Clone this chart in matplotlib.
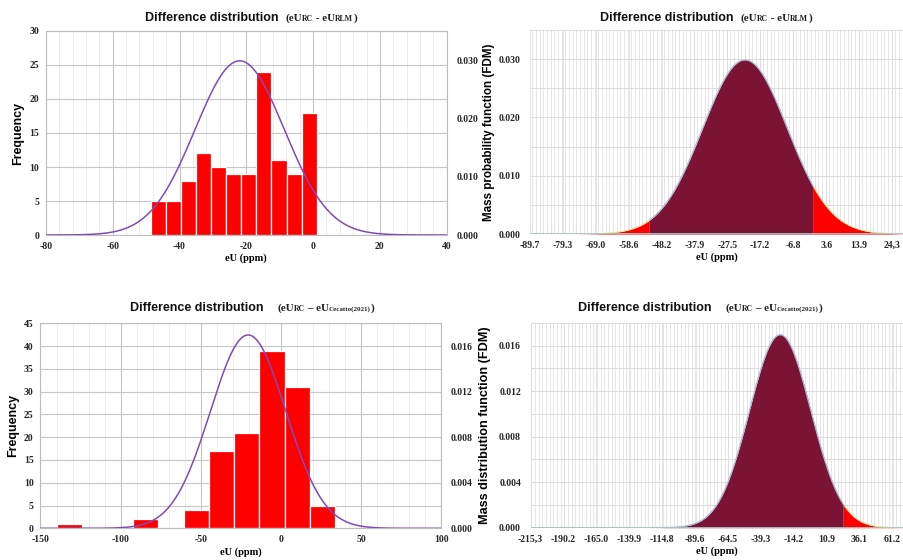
import numpy as np
import matplotlib
matplotlib.use('Agg')
import matplotlib.pyplot as plt
from matplotlib.offsetbox import TextArea, HPacker, AnnotationBbox
from matplotlib.ticker import MultipleLocator, FixedLocator

plt.rcParams['axes.unicode_minus'] = False

SANS = 'Liberation Sans'
SERIF = 'Liberation Serif'

# eU_RC - eU_RLM : histogram bins, counts and fitted normal
rlm_edges = [-48.65, -44.13, -39.6, -35.1, -30.6, -26.05, -21.5, -17.0, -12.5, -7.95, -3.4, 1.1]
rlm_counts = [5, 5, 8, 12, 10, 9, 9, 24, 11, 9, 18]
rlm_mean, rlm_sd = -22.0, 13.35
rlm_ticks = [-89.7, -79.3, -69.0, -58.6, -48.2, -37.9, -27.5, -17.2, -6.8, 3.6, 13.9, 24.3]
rlm_tick_labels = ['-89.7', '-79.3', '-69.0', '-58.6', '-48.2', '-37.9', '-27.5', '-17.2',
                   '-6.8', '3.6', '13.9', '24,3']
rlm_cut = (-52.1, -0.7)

# eU_RC - eU_Cecatto(2021)
cec_edges = [-139.8, -124.0, -108.2, -92.4, -76.6, -60.8, -45.0, -29.2, -13.4, 2.4, 18.2, 34.0]
cec_counts = [1, 0, 0, 2, 0, 4, 17, 21, 39, 31, 5]
cec_mean, cec_sd = -20.5, 23.5
cec_fdm_mean = -24.6
cec_ticks = [-215.3, -190.2, -165.0, -139.9, -114.8, -89.6, -64.5, -39.3, -14.2, 10.9, 36.1, 61.2]
cec_tick_labels = ['-215,3', '-190.2', '-165.0', '-139.9', '-114.8', '-89.6', '-64.5', '-39.3',
                   '-14.2', '10.9', '36.1', '61.2']
cec_cut = (-300.0, 23.7)

BAR_RED = '#FF0000'
CURVE = '#7E4CB8'
MAROON = '#7B1434'

W, H = 904, 560
fig = plt.figure(figsize=(W / 100, H / 100), dpi=100)


def rect(l, t, r, b):
    return [l / W, 1 - b / H, (r - l) / W, (b - t) / H]


def pdf(x, mu, sd):
    return np.exp(-0.5 * ((x - mu) / sd) ** 2) / (sd * np.sqrt(2 * np.pi))


def tick_font(ax, size=7):
    for lab in ax.get_xticklabels() + ax.get_yticklabels():
        lab.set_fontfamily(SERIF)
        lab.set_fontweight('bold')
        lab.set_fontsize(size)
        lab.set_color('#262626')


def title(xpix, ypix, sub2, gap='  '):
    serif = dict(family=SERIF, weight='bold', size=8, color='#222222')
    small = dict(family=SERIF, weight='bold', size=5.6, color='#222222')
    parts = [
        TextArea('Difference distribution' + gap,
                 textprops=dict(family=SANS, weight='bold', size=9, color='#111111')),
        TextArea('(eU', textprops=serif),
        TextArea('RC', textprops=small),
        TextArea(sub2[0], textprops=serif),
        TextArea(sub2[1], textprops=dict(small, size=sub2[2])),
        TextArea(')', textprops=serif),
    ]
    box = HPacker(children=parts, align='baseline', pad=0, sep=0)
    ab = AnnotationBbox(box, (xpix / W, 1 - ypix / H), xycoords='figure fraction',
                        frameon=False, box_alignment=(0.5, 0.5))
    fig.add_artist(ab)


def hist_panel(pos, edges, counts, mu, sd, xlim, xstep, xminor, ymax, ystep,
               pmax, pticks, label_x):
    ax = fig.add_axes(pos)
    lefts = edges[:-1]
    widths = np.diff(edges)
    ax.bar(lefts, counts, width=widths, align='edge', color=BAR_RED,
           edgecolor='white', linewidth=0.9, zorder=2)
    ax.set_xlim(*xlim)
    ax.set_ylim(0, ymax)
    ax.xaxis.set_major_locator(MultipleLocator(xstep))
    ax.xaxis.set_minor_locator(MultipleLocator(xminor))
    ax.yaxis.set_major_locator(MultipleLocator(ystep))
    ax.grid(which='minor', axis='x', color='#E9E9E9', lw=0.6)
    ax.grid(which='major', axis='both', color='#C6C6C6', lw=0.8)
    ax.set_axisbelow(True)
    ax.tick_params(which='both', length=0, pad=5)
    for s in ax.spines.values():
        s.set_color('#BDBDBD')
        s.set_linewidth(0.8)
    ax.set_xlabel('eU (ppm)', family=SERIF, weight='bold', size=7.5, labelpad=2)
    ax.set_ylabel('Frequency', family=SANS, weight='bold', size=9)
    ax.yaxis.set_label_coords(label_x, 0.5)
    tick_font(ax)

    ax2 = ax.twinx()
    xs = np.linspace(xlim[0], xlim[1], 600)
    ax2.plot(xs, pdf(xs, mu, sd), color=CURVE, lw=1.1, zorder=3)
    ax2.set_ylim(0, pmax)
    ax2.yaxis.set_major_locator(FixedLocator(pticks))
    ax2.yaxis.set_major_formatter(plt.FuncFormatter(lambda v, p: f'{v:.3f}'))
    ax2.tick_params(length=0, pad=7)
    for s in ax2.spines.values():
        s.set_visible(False)
    tick_font(ax2)
    return ax


def fdm_panel(pos, mu, sd, ticks, labels, xlim, pmax, pstep, pminor, cut,
              ylabel, label_size, label_x):
    ax = fig.add_axes(pos)
    xs = np.linspace(xlim[0], xlim[1], 3000)
    ys = pdf(xs, mu, sd)
    lo = xs <= cut[0]
    hi = xs >= cut[1]
    inner = ~lo & ~hi
    ax.fill_between(xs, ys, where=lo, color=BAR_RED, lw=0, zorder=2)
    ax.fill_between(xs, ys, where=hi, color=BAR_RED, lw=0, zorder=2)
    ax.fill_between(xs, ys, where=inner, color=MAROON, lw=0, zorder=2)
    # thin yellow rim on the red tails, blue-grey rim on the body
    for m in (lo, hi):
        if m.any():
            ax.plot(xs[m], ys[m], color='#F2DE7A', lw=0.6, zorder=3)
    ax.plot(xs[inner], ys[inner], color='#A9BDD3', lw=0.9, zorder=3)
    ax.axhline(0, color='#A9C4C2', lw=1.3, zorder=3)
    ax.set_xlim(*xlim)
    ax.set_ylim(0, pmax)
    ax.xaxis.set_major_locator(FixedLocator(ticks))
    ax.xaxis.set_major_formatter(plt.FixedFormatter(labels))
    step = ticks[1] - ticks[0]
    ax.xaxis.set_minor_locator(MultipleLocator(step / 9))
    ax.yaxis.set_major_locator(MultipleLocator(pstep))
    ax.yaxis.set_minor_locator(MultipleLocator(pminor))
    ax.yaxis.set_major_formatter(plt.FuncFormatter(lambda v, p: f'{v:.3f}'))
    ax.grid(which='both', axis='x', color='#DADADA', lw=0.5)
    ax.grid(which='both', axis='y', color='#DCDCDC', lw=0.7)
    ax.set_axisbelow(True)
    ax.tick_params(which='both', length=0, pad=5)
    ax.tick_params(axis='y', pad=7)
    for s in ax.spines.values():
        s.set_visible(False)
    ax.set_xlabel('eU (ppm)', family=SERIF, weight='bold', size=7.5, labelpad=2)
    ax.set_ylabel(ylabel, family=SANS, weight='bold', size=label_size)
    ax.yaxis.set_label_coords(label_x, 0.5)
    tick_font(ax)
    return ax


hist_panel(rect(46, 31, 446.7, 235), rlm_edges, rlm_counts, rlm_mean, rlm_sd,
           (-80, 40), 20, 4, 30, 5, 0.035, [0, 0.01, 0.02, 0.03], -0.055)
fdm_panel(rect(530, 30, 904, 234), rlm_mean, rlm_sd, rlm_ticks, rlm_tick_labels,
          (-89.7, 28.1), 0.035, 0.010, 0.005, rlm_cut,
          'Mass probability function (FDM)', 8.4, -0.094)

hist_panel(rect(40.5, 323.3, 441.3, 528.3), cec_edges, cec_counts, cec_mean, cec_sd,
           (-150, 100), 50, 10, 45, 5, 0.018, [0, 0.004, 0.008, 0.012, 0.016], -0.054)
fdm_panel(rect(530.7, 323, 904, 527.7), cec_fdm_mean, cec_sd, cec_ticks, cec_tick_labels,
          (-215.3, 70.1), 0.018, 0.004, 0.002, cec_cut,
          'Mass distribution function (FDM)', 9.1, -0.106)

title(251, 18, (' - eU', 'RLM', 5.6))
title(706, 18, (' - eU', 'RLM', 5.6))
title(252, 308, (' \u2013 eU', 'Cecatto(2021)', 5.0), gap='    ')
title(700, 308, (' \u2013 eU', 'Cecatto(2021)', 5.0), gap='    ')

fig.savefig('out.png', dpi=100, facecolor='white')
